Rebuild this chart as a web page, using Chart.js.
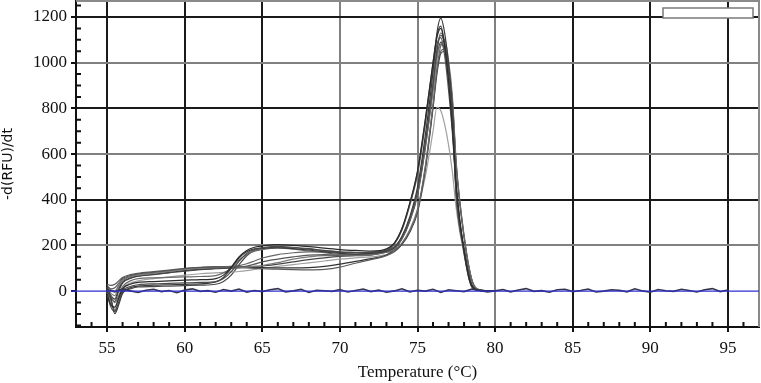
<!DOCTYPE html>
<html>
<head>
<meta charset="utf-8">
<script src="https://cdn.jsdelivr.net/npm/chart.js@4.4.0/dist/chart.umd.min.js"></script>
<style>
  html, body { margin: 0; padding: 0; background: #fff; }
  #wrap { width: 761px; height: 383px; position: relative; }
</style>
</head>
<body>
<div id="wrap"><canvas id="c"></canvas></div>
<script>
// ---------------- DATA ----------------
const temps = [55, 55.25, 55.5, 55.75, 56, 56.5, 57, 58, 59, 60, 61, 62, 62.5, 63, 63.5, 64, 64.5, 65, 66, 67, 68, 69, 70, 71, 72, 73, 73.5, 74, 74.5, 75, 75.5, 76, 76.25, 76.5, 76.75, 77, 77.25, 77.5, 78, 78.5, 79, 80];

const curveA1 = [-10, -60, -70, -30, 10, 30, 38, 42, 45, 48, 50, 55, 70, 105, 150, 178, 192, 198, 204, 200, 195, 188, 182, 178, 175, 185, 210, 275, 385, 525, 750, 1000, 1110, 1150, 1070, 920, 710, 460, 175, 22, 3, 1];
const curveA2 = [5, -40, -85, -50, 0, 20, 28, 32, 34, 36, 38, 42, 55, 85, 130, 165, 183, 190, 196, 192, 186, 178, 172, 170, 168, 178, 192, 235, 315, 435, 645, 905, 1050, 1120, 1080, 960, 770, 420, 180, 25, 4, 0];
const curveA3 = [20, -30, -99, -60, -10, 15, 22, 26, 28, 30, 32, 40, 60, 100, 145, 172, 185, 188, 190, 186, 180, 172, 165, 162, 165, 175, 190, 240, 325, 455, 680, 960, 1130, 1195, 1130, 990, 790, 440, 185, 28, 4, 1];
const curveA4 = [10, -20, -50, -20, 20, 45, 55, 58, 60, 62, 64, 68, 80, 100, 135, 160, 175, 182, 188, 184, 176, 168, 160, 158, 160, 172, 180, 210, 265, 355, 545, 820, 975, 1075, 1100, 1010, 850, 560, 245, 50, 6, 0];
const curveB1 = [30, 25, 30, 45, 60, 72, 78, 85, 92, 100, 104, 106, 105, 104, 106, 110, 118, 128, 140, 150, 158, 160, 158, 160, 165, 178, 205, 268, 375, 510, 730, 975, 1080, 1110, 1030, 880, 690, 440, 165, 18, 3, 1];
const curveB2 = [15, -10, -20, 20, 45, 62, 70, 78, 86, 95, 100, 103, 104, 102, 103, 105, 108, 112, 125, 140, 150, 155, 155, 156, 160, 172, 188, 232, 310, 425, 630, 880, 1020, 1080, 1050, 940, 755, 410, 175, 24, 3, 0];
const curveB3 = [0, -30, -45, 0, 35, 55, 65, 72, 80, 88, 94, 98, 100, 100, 102, 104, 108, 110, 118, 128, 138, 146, 152, 155, 158, 170, 178, 205, 258, 345, 530, 800, 950, 1040, 1050, 970, 820, 540, 235, 48, 5, 0];
const curveC1 = [25, 10, 15, 35, 55, 68, 75, 82, 90, 98, 103, 106, 106, 105, 104, 102, 100, 98, 96, 94, 93, 95, 105, 122, 138, 155, 172, 205, 260, 350, 540, 810, 965, 1050, 1060, 985, 830, 550, 240, 50, 6, 1];
const curveC2 = [10, -20, -35, 10, 40, 58, 66, 74, 82, 90, 96, 100, 102, 103, 104, 105, 104, 103, 102, 102, 103, 108, 118, 130, 142, 158, 182, 228, 305, 420, 625, 885, 1025, 1090, 1055, 945, 760, 415, 178, 24, 4, 1];
const curveC3 = [-5, -50, -80, -40, 10, 35, 45, 55, 62, 70, 76, 80, 82, 84, 86, 90, 95, 100, 108, 116, 124, 132, 140, 146, 150, 160, 172, 210, 270, 360, 500, 700, 805, 790, 730, 640, 520, 360, 160, 25, 3, 0];
const curveD1 = [-15, -70, -90, -45, -5, 10, 18, 20, 22, 24, 26, 30, 42, 70, 115, 155, 178, 186, 192, 190, 184, 176, 170, 168, 170, 180, 208, 272, 382, 522, 745, 1000, 1120, 1160, 1080, 925, 715, 455, 172, 20, 3, 1];
const curveD2 = [20, 5, 0, 25, 50, 64, 72, 80, 88, 96, 102, 106, 107, 108, 112, 120, 132, 145, 160, 168, 172, 172, 170, 168, 168, 176, 194, 238, 318, 440, 650, 915, 1060, 1130, 1090, 970, 780, 425, 182, 26, 4, 1];

// baseline (no-template) trace, one value every 0.5 °C from 55 to 95
const noiseStart = 55;
const noiseStep = 0.5;
const noiseValues = [6, -3, 9, 1, -6, 4, 8, -2, 3, -7,
                     5, 10, -1, 2, -5, 7, 0, 9, -4, 3,
                     -2, 6, 11, -3, 1, 8, -6, 4, 2, -1,
                     7, -4, 3, 9, -2, 5, -5, 1, 10, -3,
                     4, 0, 8, -6, 6, 2, -2, 9, 3, -4,
                     1, 7, -3, 5, 11, -1, 2, -5, 6, 8,
                     -2, 3, 9, -4, 0, 6, 4, -3, 10, 1,
                     -5, 7, 2, -1, 8, 3, -4, 6, 11, -2,
                     5];

const xTicks = [55, 60, 65, 70, 75, 80, 85, 90, 95];
const yTicks = [0, 200, 400, 600, 800, 1000, 1200];

// ---------------- BUILD ----------------
const curves = [curveA1, curveA2, curveA3, curveA4, curveB1, curveB2, curveB3, curveC1, curveC2, curveC3, curveD1, curveD2];
const curveColors = ['#2a2a2a', '#4a4a4a', '#3a3a3a', '#6a6a6a', '#555555', '#7a7a7a', '#444444', '#5c5c5c', '#333333', '#a0a0a0', '#484848', '#666666'];

const datasets = [];
datasets.push({
  label: 'NTC',
  data: noiseValues.map((v, i) => ({ x: noiseStart + i * noiseStep, y: v })),
  borderColor: '#34344c',
  borderWidth: 1.6,
  pointRadius: 0,
  tension: 0
});
curves.forEach((c, k) => {
  datasets.push({
    label: 'S' + (k + 1),
    data: c.map((v, i) => ({ x: temps[i], y: v })),
    borderColor: curveColors[k],
    borderWidth: 1.2,
    pointRadius: 0,
    cubicInterpolationMode: 'monotone'
  });
});

const xGridDark = { 55: true, 60: true, 65: true, 70: false, 75: false, 80: false, 85: true, 90: true, 95: true };
const yGridDark = { 200: false, 400: true, 600: false, 800: true, 1000: false, 1200: true };

const decor = {
  id: 'decor',
  beforeDraw(chart) {
    const ctx = chart.ctx;
    ctx.save();
    ctx.fillStyle = '#fff';
    ctx.fillRect(0, 0, chart.width, chart.height);
    ctx.restore();
  },
  beforeDatasetsDraw(chart) {
    const { ctx, chartArea: a, scales } = chart;
    ctx.save();
    ctx.strokeStyle = '#8a8a8a';
    ctx.lineWidth = 2;
    ctx.beginPath();
    ctx.moveTo(a.left, a.top);
    ctx.lineTo(a.right, a.top);
    ctx.lineTo(a.right, a.bottom);
    ctx.stroke();
    ctx.strokeStyle = '#111';
    ctx.lineWidth = 2;
    ctx.beginPath();
    for (let t = 54; t <= 96; t++) {
      if (t % 5 === 0) continue;
      const px = scales.x.getPixelForValue(t);
      ctx.moveTo(px, a.bottom);
      ctx.lineTo(px, a.bottom - 5);
    }
    for (let v = -150; v <= 1250; v += 50) {
      if (v % 200 === 0) continue;
      const py = scales.y.getPixelForValue(v);
      ctx.moveTo(a.left, py);
      ctx.lineTo(a.left + 5, py);
    }
    ctx.stroke();
    ctx.restore();
  },
  afterDatasetsDraw(chart) {
    const { ctx, chartArea: a, scales } = chart;
    ctx.save();
    const y0 = scales.y.getPixelForValue(0);
    ctx.strokeStyle = '#2f2fd0';
    ctx.lineWidth = 1.2;
    ctx.beginPath();
    ctx.moveTo(a.left - 5, y0);
    ctx.lineTo(a.right, y0);
    ctx.stroke();
    ctx.fillStyle = '#fff';
    ctx.strokeStyle = '#7a7a7a';
    ctx.lineWidth = 1.5;
    ctx.fillRect(a.right - 96, a.top + 7, 90, 10);
    ctx.strokeRect(a.right - 96, a.top + 7, 90, 10);
    ctx.restore();
  }
};

new Chart(document.getElementById('c'), {
  type: 'line',
  data: { datasets },
  plugins: [decor],
  options: {
    responsive: true,
    maintainAspectRatio: false,
    animation: false,
    layout: { padding: { left: 0, right: 2, top: 1, bottom: 0 } },
    plugins: { legend: { display: false }, tooltip: { enabled: false } },
    scales: {
      x: {
        type: 'linear',
        min: 53,
        max: 97,
        afterBuildTicks: s => { s.ticks = xTicks.map(v => ({ value: v })); },
        afterFit: s => { s.height = 56; s.paddingLeft = 0; s.paddingRight = 0; },
        ticks: { font: { family: 'Liberation Serif', size: 17 }, color: '#111', padding: 6, maxRotation: 0, autoSkip: false, callback: v => String(v) },
        grid: {
          color: c => (c.tick && xGridDark[c.tick.value]) ? '#1a1a1a' : '#808080',
          lineWidth: 2,
          tickLength: 5,
          tickColor: '#111'
        },
        border: { display: true, color: '#111', width: 2 },
        title: { display: true, text: 'Temperature (°C)', font: { family: 'Liberation Serif', size: 17 }, color: '#111', padding: { top: 0, bottom: 0 } }
      },
      y: {
        type: 'linear',
        min: -157,
        max: 1270,
        afterBuildTicks: s => { s.ticks = yTicks.map(v => ({ value: v })); },
        afterFit: s => { s.width = 76; s.paddingTop = 0; s.paddingBottom = 0; },
        ticks: { font: { family: 'Liberation Serif', size: 17 }, color: '#111', padding: 4, callback: v => String(v) },
        grid: {
          color: c => {
            if (!c.tick) return '#808080';
            if (c.tick.value === 0) return 'rgba(0,0,0,0)';
            return yGridDark[c.tick.value] ? '#1a1a1a' : '#808080';
          },
          lineWidth: 2,
          tickLength: 5,
          tickColor: '#111'
        },
        border: { display: true, color: '#111', width: 2 },
        title: { display: true, text: '-d(RFU)/dt', font: { family: 'DejaVu Sans', size: 14 }, color: '#111', padding: { top: 0, bottom: 4 } }
      }
    }
  }
});
</script>
</body>
</html>
